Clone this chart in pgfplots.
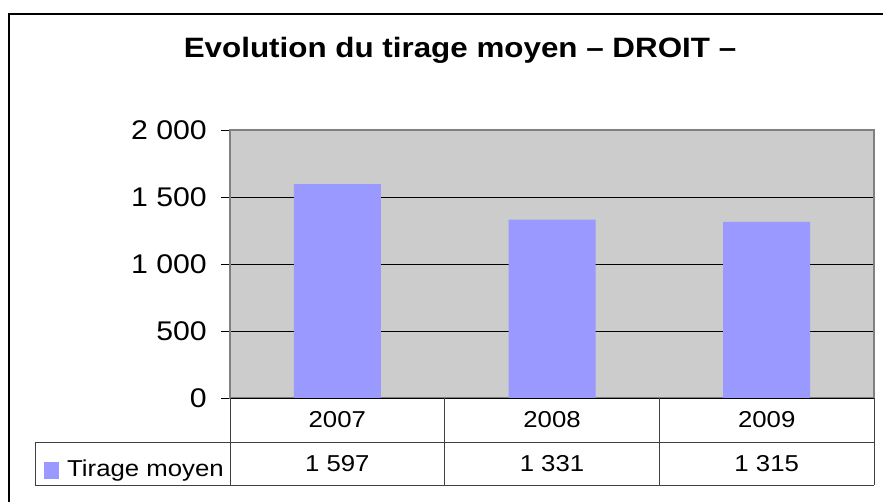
\documentclass[border=0pt]{standalone}
\usepackage{pgfplots}
\pgfplotsset{compat=1.18}
\usepackage{fontspec}
\setmainfont{Liberation Sans}[FakeStretch=1.12]
\definecolor{barblue}{HTML}{9999FF}
\definecolor{plotgray}{HTML}{CCCCCC}
\definecolor{framegray}{HTML}{808080}

\begin{document}
\begin{tikzpicture}[x=1pt,y=1pt]
% outer chart frame (runs off the right and bottom edges)
\draw[line width=1.5pt] (9,-540) -- (9,-14) -- (920,-14);
\node[font=\bfseries\fontsize{28}{32}\selectfont] at (460,-50)
    {Evolution du tirage moyen – DROIT –};

\begin{axis}[
    at={(230pt,-398pt)}, anchor=south west,
    scale only axis,
    width=644pt, height=268pt,
    xmin=-0.5, xmax=2.5,
    ymin=0, ymax=2000,
    xtick=\empty,
    ytick={0,500,1000,1500,2000},
    yticklabels={0,500,1~000,1~500,2~000},
    ytick pos=left,
    tick align=outside,
    major tick length=9pt,
    tick style={black, line width=0.8pt},
    yticklabel style={font=\fontsize{27}{30}\selectfont, anchor=east, inner sep=0pt, xshift=-14pt},
    ymajorgrids,
    grid style={black, line width=0.8pt},
    axis background/.style={fill=plotgray},
    axis line style={framegray, line width=1.2pt},
]
\addplot[ybar, bar width=87pt, fill=barblue, draw=none]
    coordinates {(0,1597) (1,1331) (2,1315)};
\draw[black, line width=1pt] (axis cs:-0.5,0) -- (axis cs:2.5,0);
\end{axis}

% data table under the plot
\begin{scope}[black!75, line width=0.8pt]
\draw (35,-442) -- (874,-442);
\draw (35,-485) -- (874,-485);
\draw (35,-442) -- (35,-485);
\foreach \x in {230,444.7,659.3,874} \draw (\x,-398) -- (\x,-485);
\end{scope}
\begin{scope}[font=\fontsize{23}{26}\selectfont]
\node at (337.3,-420) {2007};
\node at (552,-420) {2008};
\node at (766.7,-420) {2009};
\node at (337.3,-463.5) {1~597};
\node at (552,-463.5) {1~331};
\node at (766.7,-463.5) {1~315};
\fill[barblue] (44,-462) rectangle (59,-479);
\node[anchor=base west, inner sep=0pt] at (67,-476) {Tirage moyen};
\end{scope}

\pgfresetboundingbox
\useasboundingbox (0,0) rectangle (883,-501);
\end{tikzpicture}
\end{document}
